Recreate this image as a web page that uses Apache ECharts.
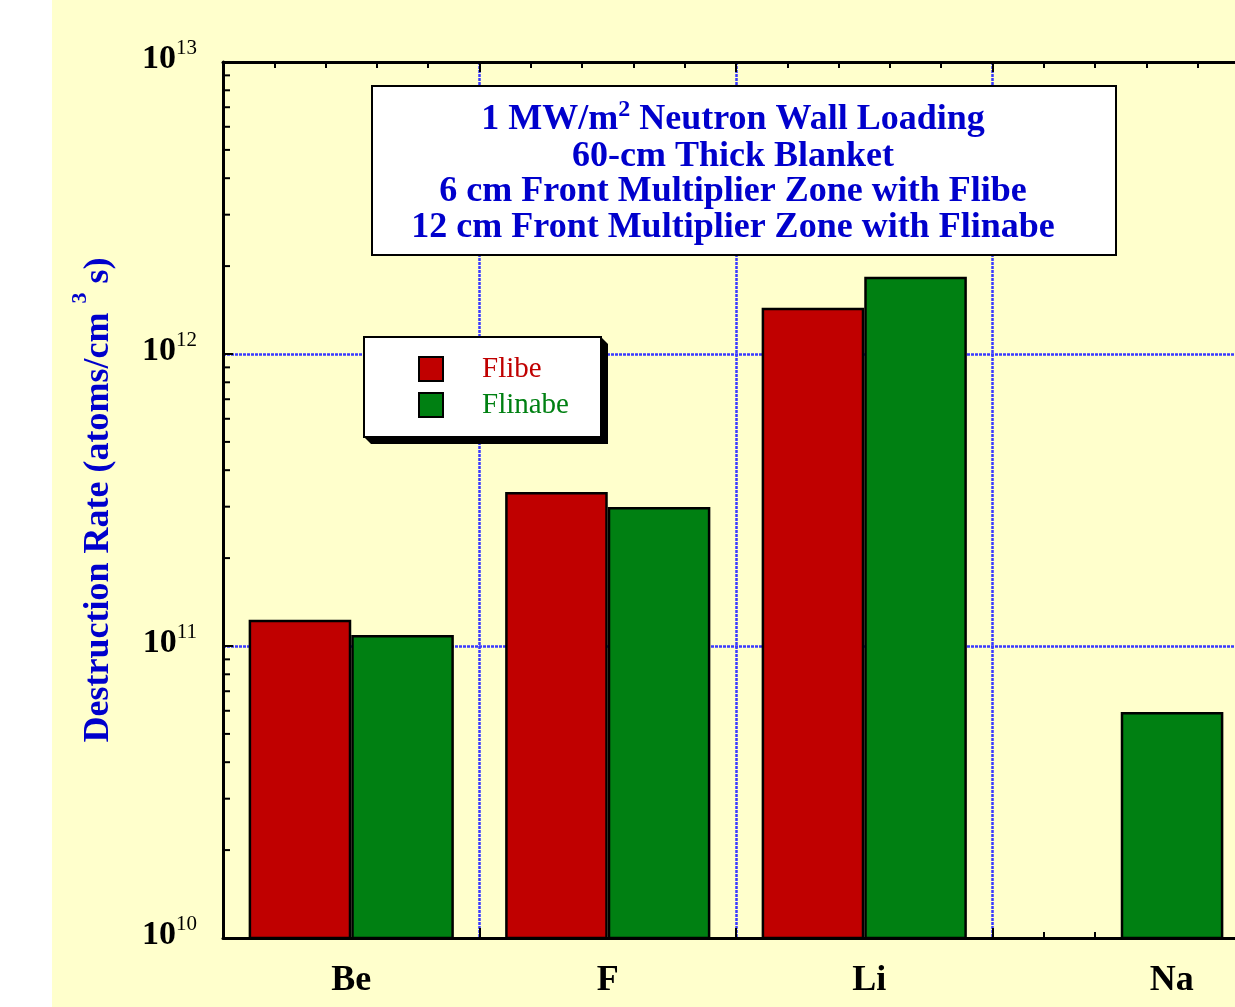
<!DOCTYPE html>
<html>
<head>
<meta charset="utf-8">
<script src="https://cdn.jsdelivr.net/npm/echarts@6/dist/echarts.min.js"></script>
<style>
  html, body { margin: 0; padding: 0; overflow: hidden; }
  #chart { width: 1260px; height: 1007px; background: linear-gradient(to right, #ffffff 52px, #ffffcc 52px); }
</style>
</head>
<body>
<div id="chart"></div>
<script>
const elements = ['Be', 'F', 'Li', 'Na'];
// the original nudges some element labels to the right (Na sits under its only bar)
const labelShift = [0, 0, 10, 102];
const flibe = [1.23e11, 3.37e11, 1.44e12, null];
const flinabe = [1.09e11, 2.99e11, 1.84e12, 5.94e10];

// log axis minor ticks (2..9 within each decade)
const decades = [1e10, 1e11, 1e12];
const minorSteps = [2, 3, 4, 5, 6, 7, 8, 9];

const noteFirst = '{a|1 MW/m}{sup|2}{a| Neutron Wall Loading}';
const noteRest = '60-cm Thick Blanket\n6 cm Front Multiplier Zone with Flibe\n12 cm Front Multiplier Zone with Flinabe';

const serif = '"Liberation Serif", "Times New Roman", serif';
const blue = '#0000cc';
const red = '#c00000';
const green = '#008012';
const gridBlue = '#3a3aff';

const minorTickData = [];
decades.forEach(d => minorSteps.forEach(m => minorTickData.push([0, d * m])));

const chart = echarts.init(document.getElementById('chart'));

const frameAxis = (position, withSplit) => ({
  type: 'value',
  position: position,
  min: 0,
  max: elements.length,
  interval: 1,
  axisLine: { show: true, onZero: false, lineStyle: { color: '#000', width: 3 } },
  axisTick: { show: true, inside: true, length: 10, lineStyle: { color: '#000', width: 2 } },
  minorTick: { show: true, splitNumber: 5, length: 6, lineStyle: { color: '#000', width: 2 } },
  axisLabel: { show: false },
  splitLine: { show: withSplit, lineStyle: { color: gridBlue, width: 2.5, type: [3, 1] } }
});

// legend box with its black extruded edge
const lgL = 364, lgT = 337, lgW = 237, lgH = 100, lgD = 7;

chart.setOption({
  animation: false,
  grid: { left: 223, top: 62, width: 1026, height: 876 },
  legend: {
    orient: 'vertical',
    left: lgL,
    top: lgT,
    padding: [14, 30, 14, 54],
    itemWidth: 24,
    itemHeight: 24,
    itemGap: 0,
    icon: 'rect',
    z: 20,
    textStyle: { fontFamily: serif, fontSize: 29, lineHeight: 30, padding: [6, 0, 0, 34] },
    data: [
      { name: 'Flibe', textStyle: { color: red } },
      { name: 'Flinabe', textStyle: { color: green } }
    ]
  },
  xAxis: [
    {
      type: 'category',
      data: elements.map((name, i) => ({ value: name, textStyle: { padding: [0, 0, 0, labelShift[i]] } })),
      position: 'bottom',
      axisLine: { show: false },
      axisTick: { show: false },
      splitLine: { show: false },
      axisLabel: { margin: 25, color: '#000', fontFamily: serif, fontWeight: 'bold', fontSize: 36 }
    },
    frameAxis('bottom', true),
    frameAxis('top', false)
  ],
  yAxis: {
    type: 'log',
    logBase: 10,
    min: 1e10,
    max: 1e13,
    position: 'left',
    axisLine: { show: true, lineStyle: { color: '#000', width: 3 } },
    axisTick: { show: true, inside: true, length: 10, lineStyle: { color: '#000', width: 2 } },
    splitLine: { show: true, lineStyle: { color: gridBlue, width: 2.5, type: [3, 1] } },
    axisLabel: {
      margin: 26,
      padding: [0, 0, 5, 0],
      formatter: v => '{b|10}{s|' + Math.round(Math.log10(v)) + '}',
      rich: {
        b: { fontFamily: serif, fontWeight: 'bold', fontSize: 34, color: '#000', lineHeight: 44 },
        s: { fontFamily: serif, fontSize: 21, color: '#000', verticalAlign: 'top', lineHeight: 21 }
      }
    },
    name: 'Destruction Rate (atoms/cm {s|3} s)',
    nameLocation: 'middle',
    nameRotate: 90,
    nameGap: 94,
    nameTextStyle: {
      fontFamily: serif, fontWeight: 'bold', fontSize: 36, color: blue, lineHeight: 60,
      rich: {
        s: { fontFamily: serif, fontWeight: 'bold', fontSize: 22, color: blue, verticalAlign: 'top', lineHeight: 22 }
      }
    }
  },
  graphic: [
    {
      type: 'polygon',
      z: 18,
      shape: {
        points: [
          [lgL + lgW, lgT], [lgL + lgW + lgD, lgT + lgD], [lgL + lgW + lgD, lgT + lgH + lgD],
          [lgL + lgD, lgT + lgH + lgD], [lgL, lgT + lgH]
        ]
      },
      style: { fill: '#000' }
    },
    {
      type: 'rect',
      z: 19,
      shape: { x: lgL, y: lgT, width: lgW, height: lgH },
      style: { fill: '#fff', stroke: '#000', lineWidth: 2 }
    },
    {
      type: 'rect',
      left: 371,
      top: 85,
      shape: { width: 744, height: 169 },
      style: { fill: '#fff', stroke: '#000', lineWidth: 2 },
      z: 10
    },
    {
      type: 'text',
      x: 733,
      y: 120,
      z: 11,
      style: {
        text: noteFirst,
        textAlign: 'center',
        textVerticalAlign: 'middle',
        fill: blue,
        fontFamily: serif,
        fontWeight: 'bold',
        fontSize: 36,
        rich: {
          a: { fontFamily: serif, fontWeight: 'bold', fontSize: 36, fill: blue, lineHeight: 44 },
          sup: { fontFamily: serif, fontWeight: 'bold', fontSize: 24, fill: blue, verticalAlign: 'top', lineHeight: 24 }
        }
      }
    },
    {
      type: 'text',
      x: 733,
      y: 192,
      z: 11,
      style: {
        text: noteRest,
        textAlign: 'center',
        textVerticalAlign: 'middle',
        fill: blue,
        fontFamily: serif,
        fontWeight: 'bold',
        fontSize: 36,
        lineHeight: 35.5
      }
    }
  ],
  series: [
    {
      name: 'Flibe',
      type: 'bar',
      xAxisIndex: 0,
      data: flibe,
      barGap: '0%',
      barCategoryGap: '20%',
      itemStyle: { color: red, borderColor: '#000', borderWidth: 2.5 }
    },
    {
      name: 'Flinabe',
      type: 'bar',
      xAxisIndex: 0,
      data: flinabe,
      barGap: '0%',
      barCategoryGap: '20%',
      itemStyle: { color: green, borderColor: '#000', borderWidth: 2.5 }
    },
    {
      name: 'minorTicks',
      type: 'custom',
      xAxisIndex: 1,
      yAxisIndex: 0,
      silent: true,
      z: 5,
      data: minorTickData,
      renderItem: (params, api) => {
        const p = api.coord([api.value(0), api.value(1)]);
        return {
          type: 'line',
          shape: { x1: p[0], y1: p[1], x2: p[0] + 7, y2: p[1] },
          style: { stroke: '#000', lineWidth: 2 }
        };
      }
    }
  ]
});
</script>
</body>
</html>
